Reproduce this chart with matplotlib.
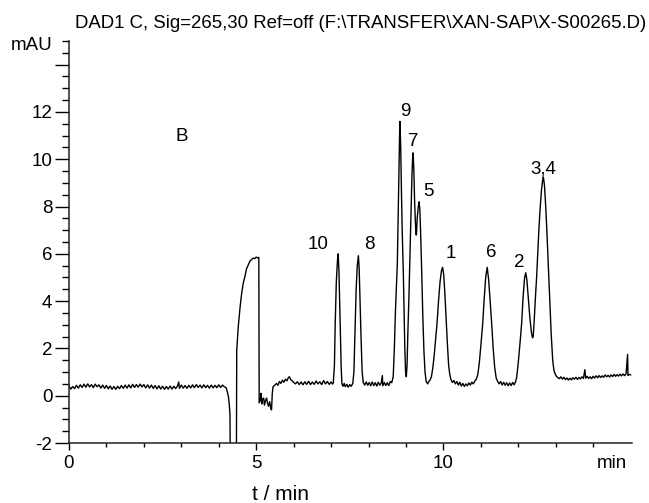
import matplotlib
matplotlib.use("Agg")
import matplotlib.pyplot as plt
from matplotlib.ticker import MultipleLocator, FixedLocator

plt.rcParams['font.family'] = ['Liberation Sans', 'DejaVu Sans']

# ---- data (time in min, signal in mAU) ----
baseline_t = [0.00, 0.05, 0.10, 0.15, 0.20, 0.25, 0.30, 0.35, 0.40, 0.45, 0.50, 0.55, 0.60, 0.65, 0.70,
              0.75, 0.80, 0.85, 0.90, 0.95, 1.00, 1.05, 1.10, 1.15, 1.20, 1.25, 1.30, 1.35, 1.40, 1.45,
              1.50, 1.55, 1.60, 1.65, 1.70, 1.75, 1.80, 1.85, 1.90, 1.95, 2.00, 2.05, 2.10, 2.15, 2.20,
              2.25, 2.30, 2.35, 2.40, 2.45, 2.50, 2.55, 2.60, 2.65, 2.70, 2.75, 2.80, 2.85, 2.90, 2.93,
              2.95, 3.00, 3.05, 3.10, 3.15, 3.20, 3.25, 3.30, 3.35, 3.40, 3.45, 3.50, 3.55, 3.60, 3.65,
              3.70, 3.75, 3.80, 3.85, 3.90, 3.95, 4.00, 4.05, 4.10, 4.15, 4.20]
baseline_y = [0.40, 0.28, 0.39, 0.30, 0.44, 0.32, 0.46, 0.35, 0.49, 0.36, 0.50, 0.37, 0.47, 0.34, 0.49,
              0.38, 0.46, 0.32, 0.45, 0.31, 0.43, 0.29, 0.41, 0.27, 0.39, 0.27, 0.40, 0.30, 0.43, 0.31,
              0.45, 0.32, 0.46, 0.33, 0.48, 0.35, 0.47, 0.36, 0.49, 0.37, 0.47, 0.33, 0.46, 0.32, 0.45,
              0.31, 0.43, 0.29, 0.42, 0.28, 0.40, 0.27, 0.39, 0.28, 0.41, 0.28, 0.40, 0.30, 0.42, 0.58,
              0.31, 0.45, 0.32, 0.43, 0.31, 0.44, 0.33, 0.46, 0.34, 0.47, 0.35, 0.45, 0.33, 0.46, 0.34,
              0.44, 0.32, 0.45, 0.33, 0.44, 0.34, 0.46, 0.35, 0.45, 0.38, 0.33]

void_t = [4.23, 4.26, 4.28, 4.30, 4.31, 4.47, 4.48, 4.52, 4.57, 4.61, 4.65, 4.70, 4.74, 4.78, 4.83,
          4.87, 4.92, 4.96, 5.00, 5.04, 5.07, 5.08, 5.11, 5.13, 5.15, 5.17, 5.20, 5.22, 5.25, 5.28,
          5.30, 5.33, 5.36, 5.39, 5.41, 5.43, 5.45, 5.50, 5.54, 5.58, 5.62, 5.66, 5.70, 5.74, 5.78,
          5.82, 5.86, 5.89, 5.92, 5.96, 6.00, 6.05, 6.10, 6.15, 6.20, 6.25, 6.30, 6.35, 6.40, 6.45,
          6.50, 6.55, 6.60, 6.65, 6.70, 6.75, 6.80, 6.85, 6.90, 6.95, 7.00, 7.04]
void_y = [0.15, -0.05, -0.35, -0.80, -3.50, -3.50, 1.90, 2.90, 3.75, 4.30, 4.73, 5.05, 5.36, 5.50, 5.68,
          5.75, 5.82, 5.80, 5.86, 5.83, 5.85, -0.30, -0.20, 0.10, -0.35, -0.15, -0.10, -0.40, -0.20, -0.10,
          -0.30, -0.45, -0.25, -0.55, -0.60, 0.10, 0.38, 0.45, 0.52, 0.44, 0.60, 0.52, 0.66, 0.57, 0.70,
          0.63, 0.77, 0.80, 0.68, 0.64, 0.56, 0.50, 0.59, 0.47, 0.58, 0.46, 0.59, 0.48, 0.61, 0.47,
          0.58, 0.48, 0.62, 0.50, 0.59, 0.47, 0.64, 0.50, 0.60, 0.48, 0.58, 0.49]

peaks_a_t = [7.06, 7.09, 7.11, 7.14, 7.17, 7.19, 7.21, 7.23, 7.25, 7.27, 7.29, 7.32, 7.35, 7.38, 7.42,
             7.46, 7.50, 7.54, 7.58, 7.61, 7.64, 7.67, 7.70, 7.73, 7.75, 7.77, 7.80, 7.83, 7.86, 7.90,
             7.94, 7.98, 8.02, 8.06, 8.10, 8.14, 8.18, 8.22, 8.26, 8.30, 8.34, 8.37, 8.38, 8.42, 8.46,
             8.50, 8.54, 8.58, 8.62]
peaks_a_y = [0.55, 1.30, 3.00, 4.80, 5.70, 6.00, 5.30, 4.00, 2.60, 1.20, 0.50, 0.40, 0.52, 0.38, 0.48,
             0.36, 0.47, 0.40, 0.52, 1.00, 2.80, 4.50, 5.50, 5.92, 5.40, 4.20, 2.50, 1.00, 0.55, 0.45,
             0.58, 0.44, 0.56, 0.42, 0.58, 0.43, 0.55, 0.41, 0.57, 0.44, 0.54, 0.85, 0.42, 0.56, 0.43,
             0.55, 0.43, 0.60, 0.55]

peaks_b_t = [8.66, 8.69, 8.72, 8.75, 8.77, 8.79, 8.81, 8.83, 8.84, 8.86, 8.88, 8.90, 8.93, 8.95, 8.97,
             8.99, 9.01, 9.03, 9.05, 9.08, 9.10, 9.13, 9.16, 9.18, 9.19, 9.21, 9.23, 9.25, 9.27, 9.28,
             9.30, 9.33, 9.35, 9.37, 9.39, 9.42, 9.45, 9.48, 9.51, 9.54, 9.58, 9.61]
peaks_b_y = [0.80, 2.00, 3.60, 4.80, 5.60, 7.30, 9.20, 11.00, 11.60, 10.50, 8.60, 7.00, 5.20, 3.60, 2.00,
             1.00, 0.80, 1.30, 2.60, 4.20, 5.50, 7.50, 9.30, 10.10, 10.27, 9.60, 8.30, 7.40, 6.80, 6.80,
             7.50, 8.00, 8.20, 7.90, 7.00, 5.30, 3.40, 1.90, 1.00, 0.60, 0.50, 0.60]

peaks_c_t = [9.64, 9.68, 9.72, 9.76, 9.80, 9.83, 9.87, 9.91, 9.95, 9.98, 10.01, 10.04, 10.08, 10.11, 10.14,
             10.17, 10.20, 10.24, 10.28, 10.32, 10.36, 10.40, 10.44, 10.48, 10.52, 10.56, 10.60, 10.64, 10.68, 10.72,
             10.76, 10.80, 10.84, 10.88, 10.92, 10.96, 11.00, 11.05, 11.09, 11.13, 11.17, 11.21, 11.25, 11.29, 11.33,
             11.37, 11.41, 11.45, 11.49, 11.53, 11.57, 11.61, 11.65, 11.69, 11.73, 11.77, 11.81, 11.85, 11.89, 11.93]
peaks_c_y = [0.65, 0.80, 1.20, 1.80, 2.50, 3.05, 4.00, 4.80, 5.30, 5.43, 5.10, 4.30, 3.05, 2.10, 1.30,
             0.90, 0.70, 0.56, 0.64, 0.50, 0.60, 0.45, 0.57, 0.41, 0.52, 0.39, 0.50, 0.42, 0.54, 0.45,
             0.57, 0.50, 0.62, 0.70, 0.90, 1.40, 2.10, 3.05, 4.10, 5.00, 5.43, 4.90, 4.00, 3.05, 2.00,
             1.20, 0.75, 0.60, 0.50, 0.60, 0.45, 0.57, 0.44, 0.55, 0.42, 0.54, 0.43, 0.56, 0.46, 0.60]

peaks_d_t = [11.96, 12.00, 12.04, 12.09, 12.13, 12.17, 12.20, 12.23, 12.27, 12.31, 12.35, 12.38, 12.40, 12.43, 12.46,
             12.49, 12.52, 12.55, 12.58, 12.62, 12.65, 12.67, 12.70, 12.73, 12.76, 12.80, 12.84, 12.88, 12.92, 12.95,
             12.98, 13.02, 13.06, 13.10, 13.14, 13.18, 13.22, 13.26, 13.30, 13.34, 13.38, 13.42, 13.46, 13.50, 13.54,
             13.58, 13.62, 13.66, 13.70, 13.74, 13.78, 13.80, 13.84, 13.88, 13.92, 13.96, 14.00, 14.04, 14.08, 14.12,
             14.16, 14.20, 14.24, 14.28, 14.32, 14.36, 14.40, 14.44, 14.48, 14.52, 14.56, 14.60, 14.64, 14.68, 14.72,
             14.76, 14.80, 14.84, 14.88, 14.92, 14.93, 14.96, 15.00]
peaks_d_y = [0.80, 1.40, 2.10, 3.05, 4.20, 5.00, 5.20, 4.90, 4.10, 3.30, 2.70, 2.45, 2.50, 3.30, 4.20,
             5.00, 6.00, 7.00, 7.82, 8.70, 9.10, 9.25, 8.90, 8.10, 7.12, 5.60, 4.03, 2.60, 1.50, 1.10,
             0.94, 0.82, 0.76, 0.72, 0.80, 0.70, 0.78, 0.68, 0.75, 0.66, 0.74, 0.67, 0.76, 0.70, 0.78,
             0.69, 0.77, 0.71, 0.80, 0.73, 1.10, 0.74, 0.82, 0.73, 0.80, 0.72, 0.82, 0.75, 0.84, 0.76,
             0.85, 0.77, 0.84, 0.78, 0.88, 0.80, 0.86, 0.79, 0.88, 0.81, 0.90, 0.82, 0.89, 0.83, 0.91,
             0.84, 0.92, 0.85, 0.93, 1.75, 0.86, 0.90, 0.88]

time_min = baseline_t + void_t + peaks_a_t + peaks_b_t + peaks_c_t + peaks_d_t
signal_mAU = baseline_y + void_y + peaks_a_y + peaks_b_y + peaks_c_y + peaks_d_y

peak_labels = ["10", "8", "9", "7", "5", "1", "6", "2", "3,4"]
label_t = [6.66, 8.02, 8.98, 9.20, 9.60, 10.21, 11.28, 12.03, 12.67]
label_y = [6.38, 6.38, 12.03, 10.76, 8.65, 6.00, 6.04, 5.62, 9.60]

y_ticks = [-2, 0, 2, 4, 6, 8, 10, 12, 14]
y_tick_labels = ["-2", "0", "2", "4", "6", "8", "10", "12", ""]
x_ticks = [0, 5, 10]
x_tick_labels = ["0", "5", "10"]
x_minor = [1, 2, 3, 4, 6, 7, 8, 9, 11, 12, 13, 14]

title = r"DAD1 C, Sig=265,30 Ref=off (F:\TRANSFER\XAN-SAP\X-S00265.D)"

# ---- figure ----
W, H = 649, 503
fig = plt.figure(figsize=(W / 100, H / 100), dpi=100)
ax = fig.add_axes([69 / W, 1 - 443 / H, (631.7 - 69) / W, (443 - 41) / H])

ax.plot(time_min, signal_mAU, color="black", lw=1.0)

ax.set_xlim(0, 15.03)
ax.set_ylim(-2, 15)

for s in ("top", "right"):
    ax.spines[s].set_visible(False)
for s in ("left", "bottom"):
    ax.spines[s].set_linewidth(1.1)
    ax.spines[s].set_color("#222222")

ax.set_yticks(y_ticks)
ax.set_yticklabels(y_tick_labels)
ax.yaxis.set_minor_locator(MultipleLocator(0.5))
ax.set_xticks(x_ticks)
ax.set_xticklabels(x_tick_labels)
ax.xaxis.set_minor_locator(FixedLocator(x_minor))

ax.tick_params(axis="y", which="major", length=10, width=1.0, pad=2, labelsize=13.5)
ax.tick_params(axis="y", which="minor", length=5, width=1.0)
ax.tick_params(axis="x", which="major", length=5, width=1.0, pad=4, labelsize=13.5)
ax.tick_params(axis="x", which="minor", length=3, width=1.0)

for lab, tx, ty in zip(peak_labels, label_t, label_y):
    ax.text(tx, ty, lab, ha="center", va="center", fontsize=13.5)

ax.text(3.02, 10.98, "B", ha="center", va="center", fontsize=13.5)

ax.text(-0.030, 14.8, "mAU", transform=ax.get_yaxis_transform(), ha="right", va="center", fontsize=13.5)
ax.text(14.5, -0.05, "min", transform=ax.get_xaxis_transform(), ha="center", va="center", fontsize=13.5)

fig.text(361 / W, 1 - 28.5 / H, title, ha="center", va="baseline", fontsize=13.4)
fig.text(281 / W, 1 - 500 / H, "t / min", ha="center", va="baseline", fontsize=15)

fig.savefig("out.png", dpi=100)
